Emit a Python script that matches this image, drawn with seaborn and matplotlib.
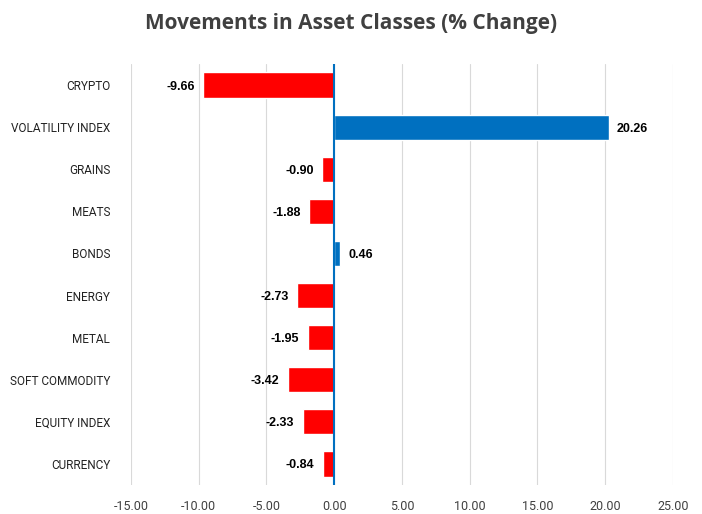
import matplotlib
matplotlib.use("Agg")
import matplotlib.pyplot as plt
import seaborn as sns
import pandas as pd

# --- Data ---
categories = ["CRYPTO", "VOLATILITY INDEX", "GRAINS", "MEATS", "BONDS",
              "ENERGY", "METAL", "SOFT COMMODITY", "EQUITY INDEX", "CURRENCY"]
changes = [-9.66, 20.26, -0.90, -1.88, 0.46, -2.73, -1.95, -3.42, -2.33, -0.84]
x_ticks = [-15, -10, -5, 0, 5, 10, 15, 20, 25]

RED = "#FF0000"
BLUE = "#0070C0"

df = pd.DataFrame({"category": categories, "change": changes})
df["sign"] = ["pos" if v >= 0 else "neg" for v in changes]

sns.set_style("white")
plt.rcParams["font.family"] = ["Roboto", "DejaVu Sans"]

fig = plt.figure(figsize=(7.02, 5.14), dpi=100)
ax = fig.add_axes([0.1866, 0.0564, 0.772, 0.819])

sns.barplot(data=df, x="change", y="category", hue="sign", orient="h",
            palette={"pos": BLUE, "neg": RED}, width=0.6, dodge=False,
            saturation=1, legend=False, ax=ax, zorder=3)

ax.set_xlim(-15, 25)
ax.set_xticks(x_ticks)
ax.set_xticklabels([f"{t:.2f}" for t in x_ticks], fontsize=9, color="#404040")
ax.tick_params(axis="y", labelsize=8.5, colors="#222222", length=0, pad=15)
ax.tick_params(axis="x", length=5, color="#BFBFBF", direction="out", pad=6)
ax.xaxis.grid(True, color="#D9D9D9", linewidth=0.8, zorder=0)
ax.set_axisbelow(True)
for s in ax.spines.values():
    s.set_visible(False)
ax.axvline(0, color=BLUE, linewidth=1.5, zorder=4)
ax.set_xlabel("")
ax.set_ylabel("")

# value labels
for i, v in enumerate(changes):
    if v < 0:
        ax.annotate(f"{v:.2f}", (v, i), xytext=(-6, 0), textcoords="offset points",
                    ha="right", va="center_baseline", fontsize=9, fontweight="bold",
                    family=["Liberation Sans", "DejaVu Sans"], color="black")
    else:
        ax.annotate(f"{v:.2f}", (v, i), xytext=(6, 0), textcoords="offset points",
                    ha="left", va="center_baseline", fontsize=9, fontweight="bold",
                    family=["Liberation Sans", "DejaVu Sans"], color="black")

fig.suptitle("Movements in Asset Classes (% Change)", x=0.5, y=0.975,
             fontsize=15, fontweight="bold", color="#404040",
             family=["Open Sans", "DejaVu Sans"])

fig.savefig("out.png", dpi=100)
